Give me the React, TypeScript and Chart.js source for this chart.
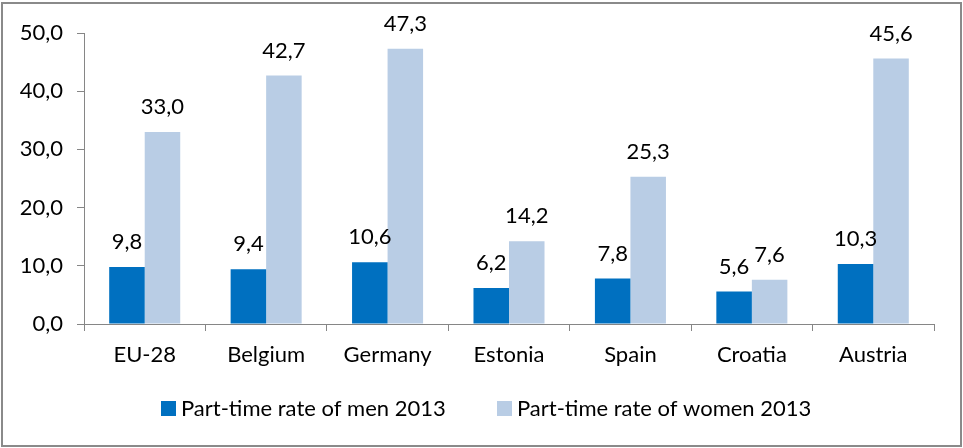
import React, { useEffect, useRef } from "react";
import { Chart, registerables } from "chart.js";

Chart.register(...registerables);

const categories = ["EU-28", "Belgium", "Germany", "Estonia", "Spain", "Croatia", "Austria"];
const menValues = [9.8, 9.4, 10.6, 6.2, 7.8, 5.6, 10.3];
const womenValues = [33.0, 42.7, 47.3, 14.2, 25.3, 7.6, 45.6];
const seriesNames = ["Part-time rate of men 2013", "Part-time rate of women 2013"];
const seriesColors = ["#0070C0", "#B9CDE5"];

const FONT = "Lato, 'Liberation Sans', sans-serif";
const FS = 22;
const fmt = (v: number) => v.toFixed(1).replace(".", ",");

const framePlugin = {
  id: "frameAndLabels",
  afterDraw(chart: any) {
    const ctx = chart.ctx;
    ctx.save();
    // data labels
    ctx.font = `${FS}px ${FONT}`;
    ctx.fillStyle = "#000";
    ctx.textAlign = "center";
    ctx.textBaseline = "middle";
    chart.data.datasets.forEach((ds: any, di: number) => {
      const meta = chart.getDatasetMeta(di);
      meta.data.forEach((bar: any, i: number) => {
        ctx.fillText(fmt(ds.data[i]), bar.x, bar.y - 25);
      });
    });
    // legend
    const items = [
      { x: 161, color: seriesColors[0], text: seriesNames[0] },
      { x: 497, color: seriesColors[1], text: seriesNames[1] },
    ];
    ctx.textAlign = "left";
    items.forEach((it) => {
      ctx.fillStyle = it.color;
      ctx.fillRect(it.x, 401, 15, 15);
      ctx.fillStyle = "#000";
      ctx.fillText(it.text, it.x + 20, 409);
    });
    // frame
    ctx.strokeStyle = "#8a8a8a";
    ctx.lineWidth = 2;
    ctx.strokeRect(2, 3, 959, 443);
    ctx.restore();
  },
};

export default function App() {
  const ref = useRef<HTMLCanvasElement>(null);
  useEffect(() => {
    if (!ref.current) return;
    const chart = new Chart(ref.current, {
      type: "bar",
      data: {
        labels: categories,
        datasets: [
          { label: seriesNames[0], data: menValues, backgroundColor: seriesColors[0], categoryPercentage: 0.585, barPercentage: 1 },
          { label: seriesNames[1], data: womenValues, backgroundColor: seriesColors[1], categoryPercentage: 0.585, barPercentage: 1 },
        ],
      },
      options: {
        animation: false,
        responsive: false,
        maintainAspectRatio: false,
        layout: { padding: { left: 0, right: 29, top: 33, bottom: 0 } },
        plugins: { legend: { display: false }, tooltip: { enabled: false } },
        scales: {
          x: {
            offset: true,
            grid: { offset: true, drawOnChartArea: false, drawTicks: true, tickLength: 7, color: "#868686" },
            border: { display: true, color: "#868686", width: 1 },
            ticks: { color: "#000", font: { family: FONT, size: FS }, padding: 11, maxRotation: 0 },
            afterFit: (s: any) => { s.height = 124; },
          },
          y: {
            min: 0,
            max: 50,
            grid: { drawOnChartArea: false, drawTicks: true, tickLength: 7, color: "#868686" },
            border: { display: true, color: "#868686", width: 1 },
            ticks: { stepSize: 10, color: "#000", font: { family: FONT, size: FS }, padding: 14, callback: (v: any) => fmt(Number(v)) },
            afterFit: (s: any) => { s.width = 84; },
          },
        },
      },
      plugins: [framePlugin],
    });
    return () => chart.destroy();
  }, []);
  return (
    <div style={{ position: "absolute", left: 0, top: 0, width: 963, height: 448, background: "#fff" }}>
      <canvas ref={ref} width={963} height={448} style={{ width: 963, height: 448 }} />
    </div>
  );
}
